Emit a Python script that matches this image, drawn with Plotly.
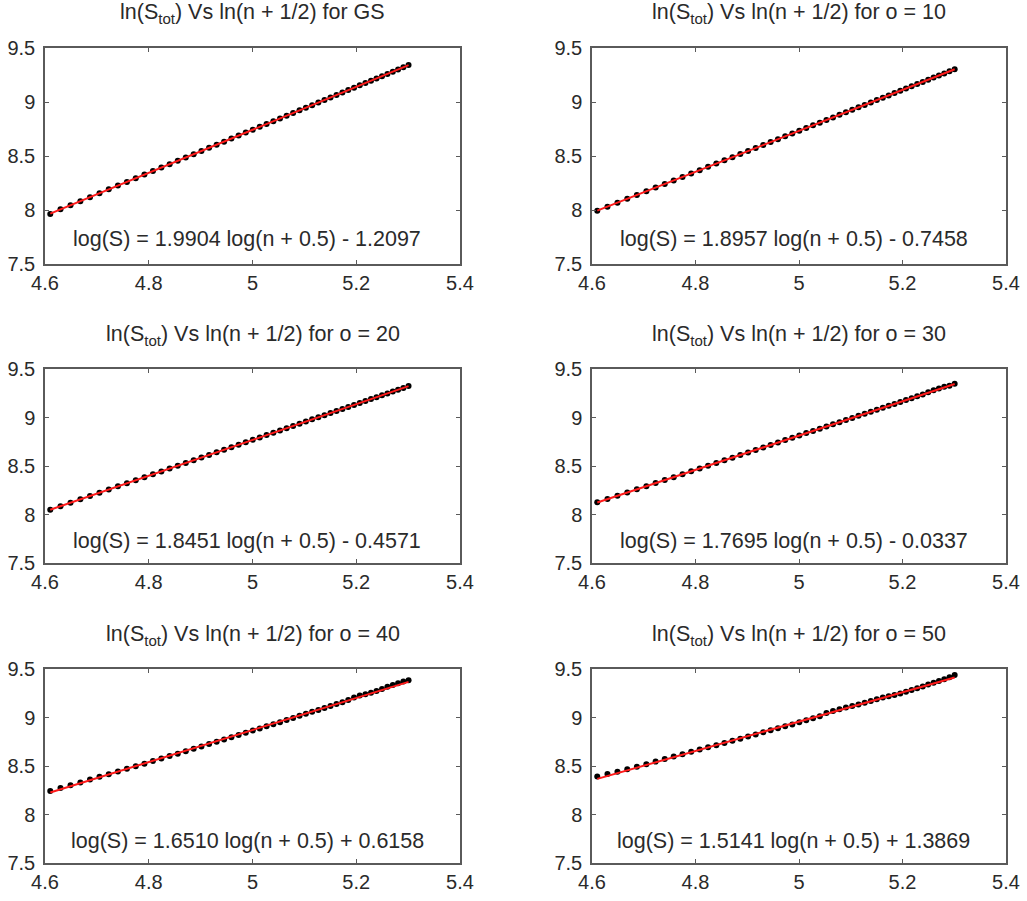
import numpy as np
import plotly.graph_objects as go

# ---------------- data ----------------
n_values = [100, 102, 104, 106, 108, 110, 112, 114, 116, 118, 120, 122, 124, 126, 128,
            130, 132, 134, 136, 138, 140, 142, 144, 146, 148, 150, 152, 154, 156, 158,
            160, 162, 164, 166, 168, 170, 172, 174, 176, 178, 180, 182, 184, 186, 188,
            190, 192, 194, 196, 198, 200]

panel_titles = ["for GS", "for o = 10", "for o = 20", "for o = 30", "for o = 40", "for o = 50"]

ln_S_gs = [7.962, 8.006, 8.044, 8.082, 8.119, 8.155, 8.191, 8.226, 8.260, 8.294, 8.328,
           8.360, 8.393, 8.424, 8.456, 8.486, 8.517, 8.546, 8.576, 8.605, 8.633, 8.661,
           8.689, 8.717, 8.743, 8.770, 8.796, 8.822, 8.848, 8.873, 8.898, 8.923, 8.947,
           8.971, 8.995, 9.019, 9.042, 9.065, 9.087, 9.110, 9.132, 9.154, 9.176, 9.197,
           9.218, 9.239, 9.260, 9.281, 9.301, 9.321, 9.343]
ln_S_o10 = [7.994, 8.031, 8.068, 8.104, 8.139, 8.174, 8.208, 8.241, 8.274, 8.306, 8.338,
            8.369, 8.400, 8.430, 8.460, 8.489, 8.518, 8.546, 8.574, 8.602, 8.629, 8.656,
            8.682, 8.708, 8.734, 8.759, 8.784, 8.809, 8.833, 8.857, 8.881, 8.905, 8.928,
            8.951, 8.973, 8.996, 9.018, 9.040, 9.061, 9.083, 9.104, 9.125, 9.145, 9.166,
            9.186, 9.206, 9.226, 9.245, 9.265, 9.284, 9.303]
ln_S_o20 = [8.049, 8.085, 8.121, 8.156, 8.190, 8.224, 8.257, 8.290, 8.322, 8.353, 8.384,
            8.414, 8.444, 8.474, 8.503, 8.531, 8.559, 8.587, 8.614, 8.641, 8.667, 8.693,
            8.719, 8.744, 8.770, 8.794, 8.819, 8.843, 8.866, 8.890, 8.913, 8.936, 8.958,
            8.981, 9.003, 9.024, 9.046, 9.067, 9.088, 9.109, 9.130, 9.150, 9.170, 9.190,
            9.210, 9.229, 9.248, 9.267, 9.286, 9.305, 9.325]
ln_S_o30 = [8.126, 8.159, 8.193, 8.227, 8.260, 8.292, 8.324, 8.355, 8.385, 8.416, 8.445,
            8.474, 8.503, 8.531, 8.559, 8.586, 8.613, 8.640, 8.666, 8.692, 8.717, 8.742,
            8.767, 8.791, 8.815, 8.839, 8.862, 8.885, 8.908, 8.930, 8.952, 8.974, 8.996,
            9.017, 9.038, 9.059, 9.080, 9.100, 9.121, 9.140, 9.160, 9.180, 9.199, 9.218,
            9.237, 9.261, 9.282, 9.300, 9.316, 9.328, 9.348]
ln_S_o40 = [8.242, 8.272, 8.302, 8.331, 8.360, 8.388, 8.416, 8.444, 8.471, 8.498, 8.524,
            8.551, 8.577, 8.602, 8.627, 8.652, 8.677, 8.701, 8.726, 8.750, 8.773, 8.797,
            8.820, 8.842, 8.865, 8.887, 8.910, 8.931, 8.952, 8.974, 8.995, 9.017, 9.038,
            9.058, 9.078, 9.099, 9.119, 9.139, 9.158, 9.180, 9.207, 9.226, 9.240, 9.255,
            9.274, 9.294, 9.318, 9.336, 9.354, 9.371, 9.383]
ln_S_o50 = [8.392, 8.417, 8.442, 8.467, 8.493, 8.519, 8.546, 8.572, 8.597, 8.622, 8.646,
            8.670, 8.693, 8.715, 8.737, 8.760, 8.782, 8.804, 8.826, 8.847, 8.868, 8.889,
            8.909, 8.929, 8.950, 8.971, 8.992, 9.014, 9.046, 9.067, 9.085, 9.102, 9.118,
            9.135, 9.151, 9.169, 9.189, 9.205, 9.218, 9.232, 9.248, 9.266, 9.284, 9.302,
            9.320, 9.339, 9.357, 9.376, 9.395, 9.416, 9.437]

fit_slopes = [1.9904, 1.8957, 1.8451, 1.7695, 1.6510, 1.5141]
fit_intercepts = [-1.2097, -0.7458, -0.4571, -0.0337, 0.6158, 1.3869]

x_tick_vals = [4.6, 4.8, 5.0, 5.2, 5.4]
x_tick_text = ["4.6", "4.8", "5", "5.2", "5.4"]
y_tick_vals = [7.5, 8.0, 8.5, 9.0, 9.5]
y_tick_text = ["7.5", "8", "8.5", "9", "9.5"]

series = [ln_S_gs, ln_S_o10, ln_S_o20, ln_S_o30, ln_S_o40, ln_S_o50]

# ---------------- layout geometry ----------------
W, H = 1027, 901
col_px = [(45, 460), (592, 1006)]
row_px = [(48, 264), (369, 563), (669, 863)]

FONT = "Liberation Sans, Arial, Helvetica, sans-serif"
TXT = "#2a2a2a"
AX = "#5a5a5a"

ln_x = np.log(np.array(n_values) + 0.5)

fig = go.Figure()
annotations = []
layout_axes = {}

for k in range(6):
    r, c = divmod(k, 2)
    idx = k + 1
    xa = "x" if idx == 1 else f"x{idx}"
    ya = "y" if idx == 1 else f"y{idx}"

    fig.add_trace(go.Scatter(
        x=ln_x, y=series[k], mode="markers",
        marker=dict(color="black", size=6),
        xaxis=xa, yaxis=ya, showlegend=False, hoverinfo="skip"))

    a, b = fit_slopes[k], fit_intercepts[k]
    x_ends = [ln_x[0], ln_x[-1]]
    fig.add_trace(go.Scatter(
        x=x_ends, y=[a * v + b for v in x_ends], mode="lines",
        line=dict(color="#ff1a1a", width=2),
        xaxis=xa, yaxis=ya, showlegend=False, hoverinfo="skip"))

    x0, x1 = col_px[c]
    y0, y1 = row_px[r]
    axis_common = dict(
        showline=True, linecolor=AX, linewidth=1.5, mirror="ticks",
        ticks="inside", ticklen=4, tickwidth=1, tickcolor=AX,
        showgrid=False, zeroline=False, fixedrange=True, automargin=False,
        tickfont=dict(family=FONT, size=20, color=TXT),
    )
    layout_axes["xaxis" if idx == 1 else f"xaxis{idx}"] = dict(
        axis_common, domain=[x0 / W, x1 / W], range=[4.6, 5.4],
        tickvals=x_tick_vals, ticktext=x_tick_text,
        anchor=ya, ticklabelstandoff=0)
    layout_axes["yaxis" if idx == 1 else f"yaxis{idx}"] = dict(
        axis_common, domain=[1 - y1 / H, 1 - y0 / H], range=[7.5, 9.5],
        tickvals=y_tick_vals, ticktext=y_tick_text,
        anchor=xa, ticklabelstandoff=4)

    sign = "-" if b < 0 else "+"
    eq = f"log(S) = {a:.4f} log(n + 0.5) {sign} {abs(b):.4f}"
    annotations.append(dict(
        x=4.99, y=7.73, xref=xa, yref=ya, text=eq, showarrow=False,
        font=dict(family=FONT, size=21.5, color=TXT), xanchor="center", yanchor="middle"))

    title = f"ln(S<sub>tot</sub>) Vs ln(n + 1/2) {panel_titles[k]}"
    annotations.append(dict(
        x=(x0 + x1) / 2 / W, y=1 - (y0 - 34) / H, xref="paper", yref="paper",
        text=title, showarrow=False,
        font=dict(family=FONT, size=21.5, color=TXT), xanchor="center", yanchor="middle"))

fig.update_layout(
    width=W, height=H,
    margin=dict(l=0, r=0, t=0, b=0),
    paper_bgcolor="white", plot_bgcolor="white",
    annotations=annotations,
    **layout_axes)

fig.write_html(
    "out.html",
    config=dict(displayModeBar=False),
    post_script="document.body.style.margin='0';document.body.style.overflow='hidden';")
